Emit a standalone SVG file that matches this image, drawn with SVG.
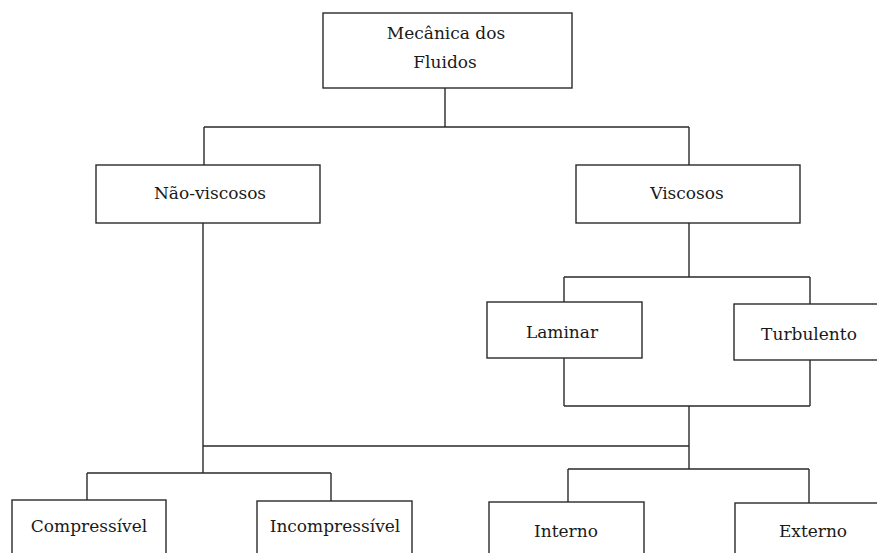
<svg xmlns="http://www.w3.org/2000/svg" width="877" height="553" viewBox="0 0 877 553">
<style>
.box{fill:#fff;stroke:#2a2a2a;stroke-width:1.4}
.ln{fill:none;stroke:#2a2a2a;stroke-width:1.4}
.t{font-family:'DejaVu Serif',serif;font-size:17px;fill:#1a1a1a;text-anchor:middle}
</style>
<rect width="877" height="553" fill="#fff"/>
<g id="connectors">
<path class="ln" d="M445 88V127M204 127H689M204 127V165M689 127V165"/>
<path class="ln" d="M689 223V277M564 277H810M564 277V302M810 277V304"/>
<path class="ln" d="M564 358V406M810 360V406M564 406H810M689 406V446"/>
<path class="ln" d="M203 223V473M203 446H689M87 473H331M87 473V500M331 473V501"/>
<path class="ln" d="M689 446V469M568 469H809M568 469V502M809 469V503"/>
</g>
<g id="n-mecanica"><rect class="box" x="323" y="13" width="249" height="75"/><text class="t" x="446" y="39">Mecânica dos</text><text class="t" x="445" y="68">Fluidos</text></g>
<g id="n-naoviscosos"><rect class="box" x="96" y="165" width="224" height="58"/><text class="t" x="210" y="199">Não-viscosos</text></g>
<g id="n-viscosos"><rect class="box" x="576" y="165" width="224" height="58"/><text class="t" x="687" y="199">Viscosos</text></g>
<g id="n-laminar"><rect class="box" x="487" y="302" width="155" height="56"/><text class="t" x="562" y="338">Laminar</text></g>
<g id="n-turbulento"><rect class="box" x="734" y="304" width="160" height="56"/><text class="t" x="809" y="340">Turbulento</text></g>
<g id="n-compressivel"><rect class="box" x="12" y="500" width="154" height="70"/><text class="t" x="89" y="532">Compressível</text></g>
<g id="n-incompressivel"><rect class="box" x="257" y="501" width="155" height="70"/><text class="t" x="335" y="532">Incompressível</text></g>
<g id="n-interno"><rect class="box" x="489" y="502" width="155" height="70"/><text class="t" x="566" y="537">Interno</text></g>
<g id="n-externo"><rect class="box" x="735" y="503" width="160" height="70"/><text class="t" x="813" y="537">Externo</text></g>
</svg>
